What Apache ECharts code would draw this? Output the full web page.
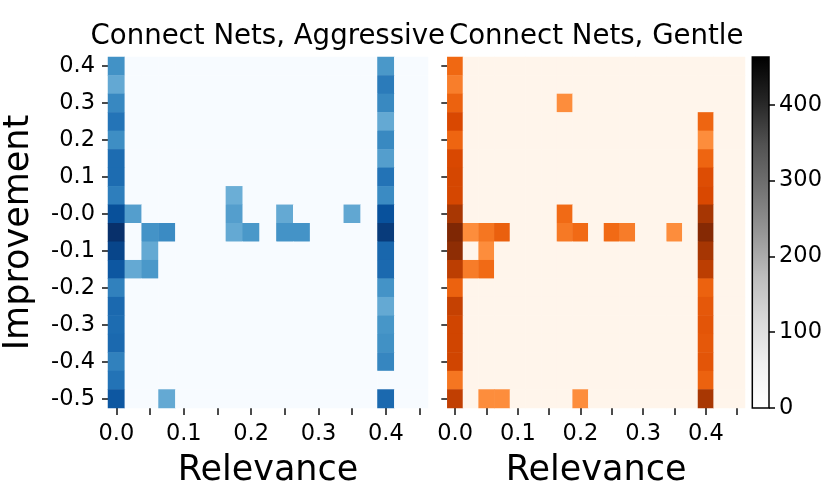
<!DOCTYPE html>
<html><head><meta charset="utf-8">
<script src="https://cdn.jsdelivr.net/npm/echarts@6/dist/echarts.min.js"></script>
<style>html,body{margin:0;padding:0;background:#fff}#c{width:830px;height:498px}</style>
</head><body><div id="c"></div>
<script>
// ---- categories / tick labels ----
const relevanceBins = ['0.0','0.025','0.05','0.075','0.1','0.125','0.15','0.175','0.2','0.225','0.25','0.275','0.3','0.325','0.35','0.375','0.4','0.425','0.45'];
const improvementBins = ['0.4','0.35','0.3','0.25','0.2','0.15','0.1','0.05','-0.0','-0.05','-0.1','-0.15','-0.2','-0.25','-0.3','-0.35','-0.4','-0.45','-0.5'];
const xTickLabels = ['0.0','0.1','0.2','0.3','0.4'];
const yTickLabels = ['0.4','0.3','0.2','0.1','-0.0','-0.1','-0.2','-0.3','-0.4','-0.5'];
const colorbarTicks = [0,100,200,300,400];
const countMax = 463;

// ---- Connect Nets, Aggressive (counts; improvement rows from 0.4 down to -0.5) ----
const aggressiveAtRel00 = [289,243,307,342,296,357,357,324,407,463,426,394,319,361,357,361,319,343,394];
const aggressiveAtRel04 = [278,329,306,241,306,264,343,301,405,444,366,361,287,241,282,292,310,0,361];
const aggressiveOther = [
  ['0.025','-0.0',264],['0.175','0.05',232],['0.175','-0.0',264],['0.25','-0.0',241],['0.35','-0.0',245],
  ['0.05','-0.05',287],['0.075','-0.05',301],['0.175','-0.05',241],['0.2','-0.05',278],['0.25','-0.05',287],['0.275','-0.05',287],
  ['0.05','-0.1',241],['0.025','-0.15',241],['0.05','-0.15',278],['0.075','-0.5',241]
];

// ---- Connect Nets, Gentle ----
const gentleAtRel00 = [292,255,301,347,296,347,352,352,403,463,440,380,301,370,357,357,357,269,375];
const gentleAtRel04 = [0,0,0,296,232,296,338,347,405,454,405,380,301,319,324,319,324,301,403];
const gentleOther = [
  ['0.175','0.3',232],['0.175','-0.0',287],
  ['0.025','-0.05',232],['0.05','-0.05',269],['0.075','-0.05',306],['0.175','-0.05',264],['0.2','-0.05',287],
  ['0.25','-0.05',287],['0.275','-0.05',259],['0.35','-0.05',232],
  ['0.05','-0.1',232],['0.025','-0.15',259],['0.05','-0.15',287],
  ['0.05','-0.5',232],['0.075','-0.5',232],['0.2','-0.5',232]
];

function buildCells(col00, col04, others) {
  const grid = improvementBins.map(() => relevanceBins.map(() => 0));
  improvementBins.forEach((_, r) => {
    grid[r][relevanceBins.indexOf('0.0')] = col00[r];
    grid[r][relevanceBins.indexOf('0.4')] = col04[r];
  });
  others.forEach(([rel, imp, v]) => { grid[improvementBins.indexOf(imp)][relevanceBins.indexOf(rel)] = v; });
  const out = [];
  improvementBins.forEach((_, r) => relevanceBins.forEach((_, c) => out.push([c, r, grid[r][c]])));
  return out;
}

const blues = ['#f7fbff','#deebf7','#c6dbef','#9ecae1','#6baed6','#4292c6','#2171b5','#08519c','#08306b'];
const oranges = ['#fff5eb','#fee6ce','#fdd0a2','#fdae6b','#fd8d3c','#f16913','#d94801','#a63603','#7f2704'];
const greys = ['#ffffff','#f0f0f0','#d9d9d9','#bdbdbd','#969696','#737373','#525252','#252525','#000000'];

const FONT = 'DejaVu Sans';
const tickStyle = {color:'#000', fontSize:22.5, fontFamily:FONT};
const nameStyle = {color:'#000', fontSize:35, fontFamily:FONT};

function xAxisFor(gridIndex) {
  return {
    type:'category', gridIndex, data: relevanceBins,
    axisLine:{show:false}, splitLine:{show:false},
    axisTick:{show:true, alignWithLabel:true, interval:1, length:7, lineStyle:{color:'#111', width:1.5}},
    axisLabel:{...tickStyle, interval:3, margin:15, formatter: v => xTickLabels.includes(v) ? v : ''},
    name:'Relevance', nameLocation:'middle', nameGap:45, nameTextStyle:nameStyle
  };
}
function yAxisFor(gridIndex, showLabels) {
  return {
    type:'category', gridIndex, data: improvementBins, inverse:true,
    axisLine:{show:false}, splitLine:{show:false},
    axisTick:{show:true, alignWithLabel:true, interval:1, length:6, lineStyle:{color:'#111', width:1.5}},
    axisLabel:{...tickStyle, show:showLabels, interval:1, margin:13, formatter: v => yTickLabels.includes(v) ? v : ''},
    name: showLabels ? 'Improvement' : '', nameLocation:'middle', nameGap:72, nameTextStyle:nameStyle
  };
}

const chart = echarts.init(document.getElementById('c'), null, {renderer:'canvas'});
chart.setOption({
  animation:false,
  backgroundColor:'#fff',
  title:[
    {text:'Connect Nets, Aggressive', left:262.8, top:18, textAlign:'center', textStyle:{fontSize:27.6, fontWeight:'normal', color:'#000', fontFamily:FONT}},
    {text:'Connect Nets, Gentle', left:591.2, top:18, textAlign:'center', textStyle:{fontSize:27.6, fontWeight:'normal', color:'#000', fontFamily:FONT}}
  ],
  grid:[
    {left:107.7, top:57, width:320.3, height:351},
    {left:447.3, top:57, width:297.7, height:351},
    {left:752.3, top:57, width:16.7, height:351, show:true, z:5, backgroundColor:'transparent', borderColor:'#000', borderWidth:1.5}
  ],
  xAxis:[
    xAxisFor(0), xAxisFor(1),
    {type:'category', gridIndex:2, data:['count'], show:false}
  ],
  yAxis:[
    yAxisFor(0, true), yAxisFor(1, false),
    {type:'value', gridIndex:2, position:'right', min:0, max:countMax,
     axisLine:{show:false}, splitLine:{show:false},
     axisTick:{show:true, length:6, customValues:colorbarTicks, lineStyle:{color:'#000', width:1.5}},
     axisLabel:{...tickStyle, margin:10, customValues:colorbarTicks}}
  ],
  visualMap:[
    {type:'continuous', show:false, seriesIndex:0, dimension:2, min:0, max:countMax, inRange:{color:blues}},
    {type:'continuous', show:false, seriesIndex:1, dimension:2, min:0, max:countMax, inRange:{color:oranges}}
  ],
  series:[
    {type:'heatmap', xAxisIndex:0, yAxisIndex:0, data:buildCells(aggressiveAtRel00, aggressiveAtRel04, aggressiveOther), itemStyle:{borderWidth:0}, emphasis:{disabled:true}, progressive:0},
    {type:'heatmap', xAxisIndex:1, yAxisIndex:1, data:buildCells(gentleAtRel00, gentleAtRel04, gentleOther), itemStyle:{borderWidth:0}, emphasis:{disabled:true}, progressive:0},
    {type:'bar', xAxisIndex:2, yAxisIndex:2, data:[countMax], barWidth:'100%', silent:true,
     itemStyle:{color:new echarts.graphic.LinearGradient(0,0,0,1, greys.slice().reverse().map((c,i,a)=>({offset:i/(a.length-1), color:c})))}}
  ]
});
</script></body></html>
